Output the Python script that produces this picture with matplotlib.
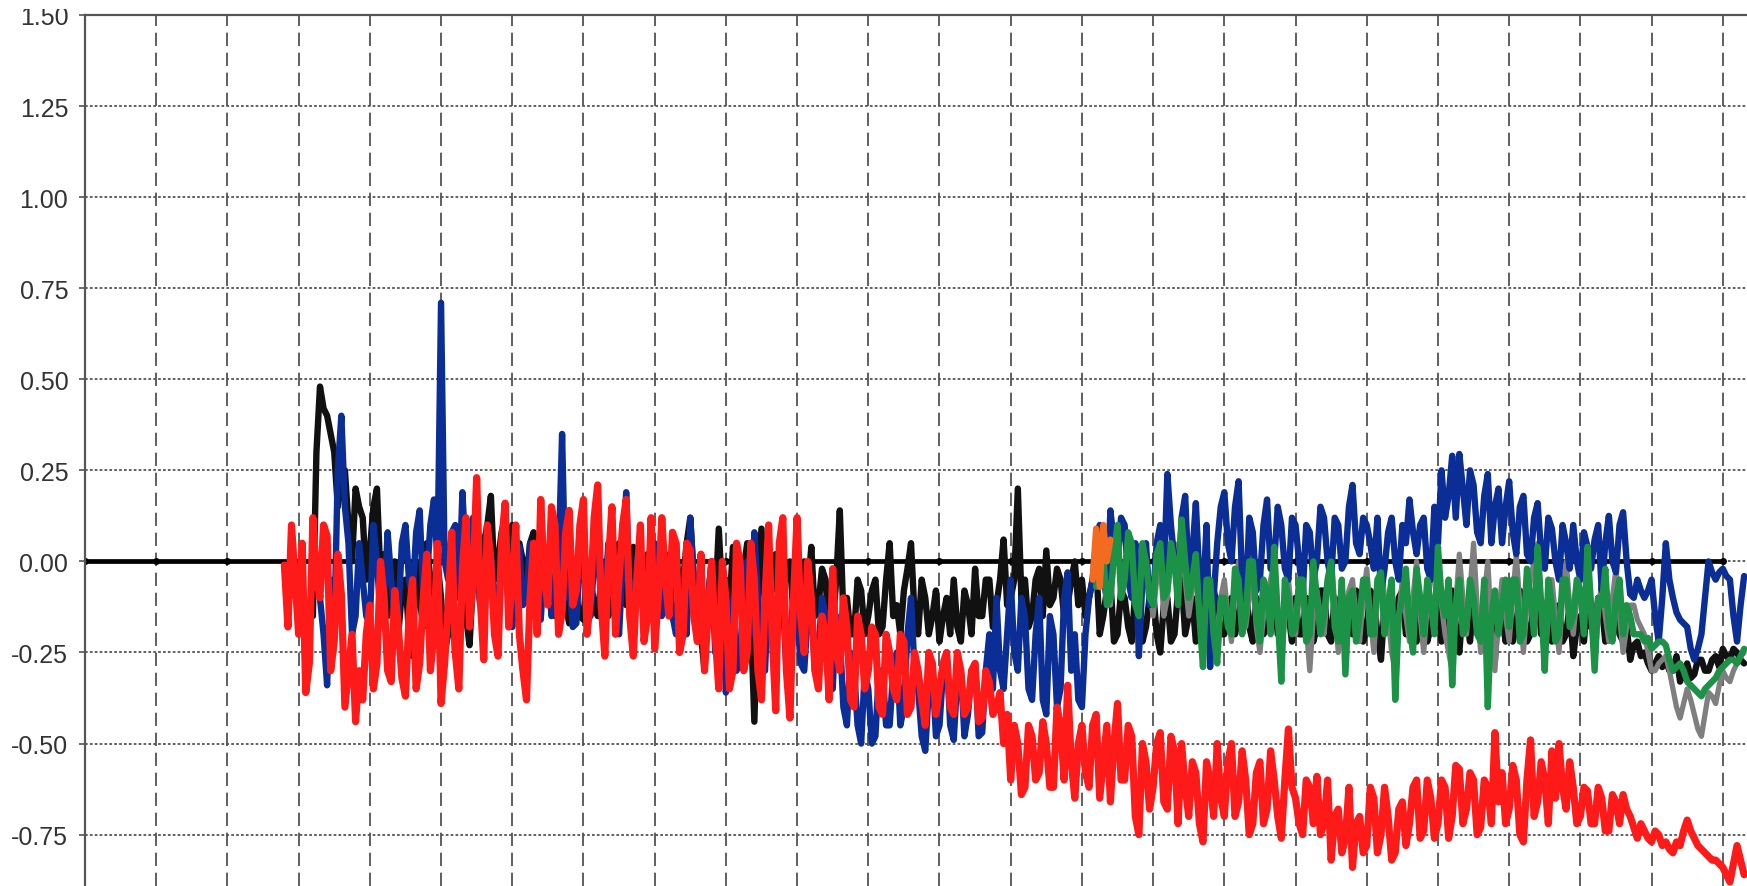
import numpy as np
import matplotlib.pyplot as plt
from matplotlib.patches import Rectangle
from matplotlib.ticker import FormatStrFormatter

plt.rcParams['font.family'] = ['Liberation Sans', 'DejaVu Sans']
plt.rcParams['axes.unicode_minus'] = False

# y tick values and labels
y_ticks = [-0.75, -0.50, -0.25, 0.00, 0.25, 0.50, 0.75, 1.00, 1.25, 1.50]
x_grid = list(range(0, 24))

# series: *_vals every 0.1 from *_start,
# *_mid the readings half way between them
red_start = 2.8
red_vals = [
    -0.01, 0.10,
    -0.2, -0.36, 0.12, -0.1, 0.07, -0.22, -0.09, -0.3, -0.44, -0.38,
    -0.12, -0.28, -0.1, -0.33, -0.18, -0.37, -0.05, -0.28, 0.02, -0.2,
    -0.39, -0.12, -0.25, -0.02, -0.18, 0.23, -0.27, 0.0, -0.26, 0.16,
    -0.05, -0.2, -0.38, 0.05, 0.17, -0.12, 0.1, -0.14, 0.14, -0.08,
    0.17, -0.1, 0.21, -0.26, 0.15, -0.05, 0.17, -0.26, 0.1, -0.15,
    -0.24, 0.12, -0.15, 0.05, -0.2, 0.03, -0.22, -0.3, 0.0, -0.35,
    -0.1, -0.3, 0.0, -0.25, -0.05, -0.38, 0.1, -0.41, 0.12, -0.43,
    0.12, -0.25, -0.1, -0.35, -0.2, -0.02, -0.3, -0.18, -0.4, -0.2,
    -0.3, -0.2, -0.42, -0.25, -0.38, -0.22, -0.4, -0.3, -0.45, -0.28,
    -0.35, -0.25, -0.42, -0.3, -0.4, -0.28, -0.43, -0.33, -0.4, -0.5,
    -0.6, -0.5, -0.62, -0.48, -0.58, -0.5, -0.62, -0.45, -0.34, -0.65,
    -0.45, -0.62, -0.42, -0.55, -0.66, -0.39, -0.6, -0.48, -0.75, -0.55,
    -0.62, -0.47, -0.68, -0.52, -0.5, -0.7, -0.58, -0.77, -0.6, -0.5,
    -0.7, -0.5, -0.66, -0.6, -0.72, -0.55, -0.68, -0.6, -0.76, -0.46,
    -0.65, -0.75, -0.62, -0.59, -0.72, -0.82, -0.68, -0.76, -0.84, -0.7,
    -0.78, -0.65, -0.75, -0.7, -0.8, -0.66, -0.72, -0.6, -0.74, -0.65,
    -0.72, -0.62, -0.7, -0.57, -0.68, -0.6, -0.73, -0.62, -0.47, -0.58,
    -0.68, -0.6, -0.77, -0.49, -0.66, -0.6, -0.52, -0.5, -0.68, -0.62,
    -0.7, -0.63, -0.72, -0.65, -0.74, -0.66, -0.64, -0.7, -0.76, -0.74,
    -0.77, -0.75, -0.77, -0.8, -0.78, -0.71, -0.76, -0.79, -0.81, -0.82,
    -0.84, -0.88, -0.78, -0.86,
]
red_mid = [
    -0.18, -0.05,
    0.05, -0.28, -0.05, 0.1, -0.3, 0.02, -0.4, -0.2, -0.3, -0.2,
    -0.35, 0.0, -0.3, -0.08, -0.32, -0.15, -0.35, -0.1, -0.3, 0.05,
    -0.28, 0.08, -0.35, 0.12, -0.05, -0.1, 0.1, -0.2, 0.05, -0.18,
    0.1, -0.3, -0.1, -0.2, -0.05, 0.15, -0.2, 0.08, -0.12, 0.1,
    -0.2, 0.12, -0.12, 0.0, -0.2, 0.1, -0.15, -0.05, -0.22, 0.12,
    -0.1, -0.05, 0.08, -0.25, 0.05, -0.15, 0.02, -0.15, -0.2, 0.0,
    -0.35, 0.05, -0.3, 0.05, -0.3, -0.1, -0.2, 0.05, -0.3, -0.1,
    -0.15, 0.0, -0.3, -0.15, -0.38, -0.25, -0.1, -0.38, -0.15, -0.35,
    -0.18, -0.4, -0.2, -0.35, -0.2, -0.42, -0.25, -0.38, -0.25, -0.42,
    -0.28, -0.4, -0.25, -0.42, -0.3, -0.44, -0.3, -0.42, -0.36, -0.42,
    -0.45, -0.64, -0.45, -0.6, -0.44, -0.62, -0.4, -0.6, -0.55, -0.5,
    -0.58, -0.45, -0.65, -0.45, -0.5, -0.6, -0.45, -0.7, -0.5, -0.68,
    -0.5, -0.66, -0.48, -0.72, -0.62, -0.55, -0.72, -0.55, -0.7, -0.65,
    -0.55, -0.7, -0.52, -0.75, -0.58, -0.72, -0.52, -0.7, -0.6, -0.62,
    -0.72, -0.6, -0.72, -0.75, -0.6, -0.7, -0.8, -0.62, -0.72, -0.8,
    -0.62, -0.8, -0.62, -0.82, -0.68, -0.78, -0.62, -0.76, -0.6, -0.76,
    -0.6, -0.76, -0.56, -0.72, -0.58, -0.75, -0.6, -0.72, -0.66, -0.72,
    -0.56, -0.75, -0.6, -0.7, -0.55, -0.72, -0.65, -0.62, -0.55, -0.72,
    -0.62, -0.72, -0.62, -0.74, -0.64, -0.72, -0.68, -0.73, -0.72, -0.76,
    -0.74, -0.78, -0.79, -0.77, -0.74, -0.74, -0.78, -0.8, -0.82, -0.83,
    -0.86, -0.83, -0.82,
]

blue_start = 3.3
blue_vals = [
    -0.1, -0.34, -0.2, 0.4, 0.05, -0.15, -0.05,
    -0.17, 0.0, -0.12, -0.05, -0.15, 0.1, -0.1, 0.14, -0.05, 0.17,
    0.71, -0.05, 0.1, 0.19, -0.1, 0.05, -0.12, 0.02, -0.15, 0.0,
    -0.18, 0.04, -0.1, 0.0, -0.16, 0.03, -0.12, 0.35, -0.05, -0.17,
    0.0, -0.15, 0.08, -0.1, 0.05, -0.2, 0.19, -0.23, 0.05, -0.1,
    0.05, -0.15, 0.0, -0.2, -0.05, 0.12, -0.1, -0.25, 0.0, -0.2,
    -0.36, -0.1, -0.25, 0.0, 0.08, -0.2, -0.05, -0.25, -0.1, -0.2,
    -0.15, -0.3, -0.1, -0.25, -0.15, -0.35, -0.2, -0.45, -0.3, -0.5,
    -0.35, -0.48, -0.3, -0.45, -0.25, -0.4, -0.1, -0.35, -0.52, -0.3,
    -0.45, -0.25, -0.49, -0.3, -0.42, -0.28, -0.47, -0.2, -0.1, -0.35,
    -0.05, -0.3, -0.15, -0.38, -0.1, -0.42, -0.2, -0.35, -0.03, -0.2,
    -0.4, -0.1, 0.05, -0.05, 0.14, 0.0, 0.1, -0.1, -0.26, 0.05,
    -0.1, 0.1, 0.24, 0.0, 0.12, -0.05, 0.16, -0.1, -0.29, 0.05,
    0.19, 0.0, 0.22, -0.12, 0.08, -0.05, 0.17, 0.0, 0.1, -0.05,
    0.1, -0.09, 0.08, 0.0, 0.12, -0.05, 0.1, 0.0, 0.21, 0.02,
    0.1, -0.02, -0.09, 0.08, 0.0, 0.1, 0.17, 0.02, 0.12, -0.05,
    0.05, 0.12, 0.29, 0.295, 0.1, 0.21, 0.05, 0.24, 0.15, 0.05,
    0.22, 0.02, 0.18, 0.0, 0.16, -0.02, 0.09, -0.05, 0.05, 0.1,
    -0.05, 0.04, 0.06, -0.08, 0.125, -0.03, 0.135, -0.09, -0.05, -0.1,
    -0.05, -0.22, 0.05, -0.1, -0.16, -0.18, -0.27, -0.2, 0.0, -0.05,
    -0.02, -0.05, -0.22, -0.04,
]
blue_mid = [
    -0.2, -0.05, 0.25, 0.15, -0.2, 0.05, -0.15,
    0.1, -0.15, 0.08, -0.17, 0.05, -0.05, 0.08, -0.1, 0.1, 0.0,
    0.0, 0.08, -0.1, 0.0, 0.12, -0.12, 0.1, -0.12, 0.05, -0.12,
    -0.05, -0.12, 0.05, -0.15, 0.0, -0.15, 0.0, -0.1, -0.18, 0.0,
    -0.12, 0.0, -0.15, 0.05, -0.12, 0.0, -0.1, 0.0, -0.15, 0.0,
    -0.1, 0.02, -0.15, -0.05, -0.2, -0.05, -0.2, -0.1, -0.25, -0.1,
    -0.2, -0.3, -0.1, -0.2, -0.1, -0.3, -0.15, -0.1, -0.3, -0.1,
    -0.28, -0.15, -0.3, -0.1, -0.32, -0.15, -0.4, -0.25, -0.45, -0.3,
    -0.5, -0.3, -0.45, -0.3, -0.45, -0.2, -0.3, -0.48, -0.35, -0.48,
    -0.3, -0.45, -0.32, -0.48, -0.3, -0.48, -0.3, -0.35, -0.3, -0.2,
    -0.25, -0.1, -0.35, -0.2, -0.38, -0.15, -0.4, -0.1, -0.3, -0.38,
    -0.2, -0.05, 0.1, -0.1, 0.05, 0.12, -0.05, 0.05, -0.05, -0.12,
    0.05, -0.05, 0.1, -0.08, 0.18, 0.02, -0.05, 0.1, -0.1, 0.15,
    0.05, 0.15, -0.05, 0.12, -0.08, 0.1, -0.02, 0.15, -0.02, 0.12,
    0.0, 0.1, -0.05, 0.15, 0.0, 0.12, -0.02, 0.15, 0.05, 0.12,
    0.05, 0.12, -0.02, 0.12, -0.05, 0.05, 0.08, 0.1, -0.02, 0.15,
    0.25, 0.18, 0.12, 0.2, 0.25, 0.08, 0.18, 0.05, 0.2, 0.15,
    0.08, 0.15, 0.02, 0.12, 0.02, 0.12, 0.0, 0.1, -0.02, 0.0,
    0.08, -0.02, 0.1, 0.05, 0.0, 0.1, 0.0, -0.1, -0.08, -0.08,
    -0.15, -0.1, -0.05, -0.14, -0.17, -0.24, -0.24, -0.1, -0.03, -0.03,
    -0.04, -0.15, -0.12,
]

black_start = 3.2
black_vals = [
    -0.15, 0.48, 0.4, 0.3, 0.22, 0.1, 0.2, 0.12,
    0.03, 0.2, 0.02, -0.06, -0.2, -0.05, -0.26, -0.1, 0.05, -0.15,
    -0.1, -0.2, -0.26, -0.1, -0.23, 0.0, 0.05, 0.18, 0.0, 0.12,
    0.1, 0.05, -0.05, 0.08, -0.1, 0.02, -0.15, 0.0, -0.17, -0.1,
    -0.16, -0.05, -0.15, 0.0, -0.1, 0.05, -0.12, 0.04, -0.08, 0.02,
    -0.05, 0.03, -0.1, 0.05, -0.05, 0.12, -0.1, -0.3, 0.0, 0.09,
    -0.05, 0.04, -0.1, 0.05, -0.44, 0.09, -0.05, 0.02, -0.1, 0.0,
    -0.08, 0.0, 0.04, -0.12, -0.05, -0.18, 0.14, -0.1, -0.2, -0.08,
    -0.15, -0.05, -0.18, 0.05, -0.12, -0.08, 0.05, -0.2, -0.1, -0.15,
    -0.22, -0.1, -0.05, -0.22, -0.12, -0.02, -0.15, -0.05, -0.12, 0.06,
    -0.1, 0.2, -0.05, -0.15, -0.02, 0.03, -0.1, -0.05, -0.12, 0.0,
    -0.05, -0.1, 0.0, -0.15, -0.05, -0.2, -0.1, -0.22, -0.12, -0.18,
    -0.08, -0.25, -0.1, -0.2, -0.05, -0.15, -0.22, -0.1, -0.18, -0.12,
    -0.2, -0.1, -0.15, -0.05, -0.22, -0.12, -0.18, -0.08, -0.2, -0.14,
    -0.1, -0.2, -0.12, -0.18, -0.08, -0.22, -0.15, -0.1, -0.2, -0.12,
    -0.18, -0.1, -0.27, -0.12, -0.2, -0.08, -0.15, -0.22, -0.1, -0.18,
    -0.12, -0.2, -0.08, -0.25, -0.15, -0.1, -0.2, -0.12, -0.27, -0.15,
    -0.1, -0.18, -0.12, -0.2, -0.08, -0.15, -0.22, -0.12, -0.2, -0.26,
    -0.15, -0.1, -0.2, -0.12, -0.18, -0.15, -0.22, -0.27, -0.22, -0.25,
    -0.3, -0.26, -0.27, -0.3, -0.33, -0.28, -0.31, -0.27, -0.3, -0.26,
    -0.24, -0.27, -0.25, -0.28,
]
black_mid = [
    0.3, 0.42, 0.35, 0.15, 0.25, 0.0, 0.15, -0.05,
    0.15, -0.05, -0.15, 0.0, -0.08, -0.2, 0.0, -0.18, -0.05, 0.0,
    -0.25, -0.05, -0.2, -0.15, -0.05, -0.12, 0.1, -0.05, 0.08, 0.0,
    -0.05, 0.0, 0.05, -0.12, -0.02, -0.1, 0.05, -0.12, -0.05, -0.15,
    -0.02, -0.12, -0.05, -0.15, -0.02, -0.1, 0.0, -0.12, 0.0, -0.12,
    -0.1, -0.02, -0.05, -0.1, 0.05, -0.05, -0.2, -0.1, -0.12, -0.1,
    -0.12, -0.05, -0.02, -0.15, -0.1, -0.12, -0.08, -0.12, -0.02, -0.15,
    -0.15, -0.08, -0.15, -0.02, -0.2, -0.05, -0.15, -0.2, -0.05, -0.2,
    -0.08, -0.2, -0.05, -0.15, -0.2, -0.02, -0.15, -0.05, -0.2, -0.08,
    -0.15, -0.2, -0.18, -0.08, -0.2, -0.15, -0.05, -0.18, -0.05, -0.12,
    -0.05, -0.1, -0.18, -0.05, -0.15, -0.12, -0.02, -0.15, -0.05, -0.12,
    -0.15, -0.05, -0.2, -0.08, -0.22, -0.08, -0.18, -0.08, -0.22, -0.1,
    -0.2, -0.12, -0.22, -0.08, -0.2, -0.1, -0.12, -0.22, -0.08, -0.2,
    -0.12, -0.2, -0.08, -0.18, -0.1, -0.2, -0.1, -0.2, -0.12, -0.22,
    -0.2, -0.1, -0.22, -0.08, -0.2, -0.1, -0.22, -0.15, -0.08, -0.22,
    -0.08, -0.2, -0.12, -0.22, -0.1, -0.2, -0.1, -0.12, -0.22, -0.1,
    -0.22, -0.1, -0.2, -0.12, -0.22, -0.18, -0.08, -0.22, -0.12, -0.22,
    -0.22, -0.08, -0.22, -0.1, -0.2, -0.1, -0.15, -0.22, -0.12, -0.18,
    -0.22, -0.18, -0.1, -0.22, -0.1, -0.2, -0.18, -0.23, -0.26, -0.28,
    -0.28, -0.29, -0.3, -0.26, -0.3, -0.32, -0.27, -0.3, -0.27, -0.29,
    -0.26, -0.24, -0.27,
]

green_start = 14.2
green_vals = [
    -0.07, 0.02, -0.1, 0.1, -0.05, 0.05, -0.15, 0.0,
    -0.12, 0.05, -0.08, 0.0, 0.115, -0.1, 0.02, -0.29, -0.05, -0.28,
    -0.1, -0.2, -0.05, -0.15, 0.0, -0.22, -0.08, 0.04, -0.33, -0.1,
    -0.18, -0.05, -0.2, -0.1, -0.15, 0.0, -0.22, -0.31, -0.08, -0.15,
    -0.05, -0.2, -0.03, -0.12, -0.38, -0.1, -0.18, -0.02, -0.2, -0.12,
    0.04, -0.15, -0.34, -0.05, -0.18, -0.1, -0.22, -0.4, -0.08, -0.12,
    -0.18, -0.05, -0.2, -0.1, 0.04, -0.3, -0.12, -0.2, -0.05, -0.15,
    -0.08, 0.04, -0.3, -0.12, -0.18, -0.1, -0.2, -0.15, -0.2, -0.22,
    -0.24, -0.22, -0.23, -0.3, -0.28, -0.33, -0.35, -0.37, -0.34, -0.32,
    -0.29, -0.27, -0.28, -0.24,
]
green_mid = [
    0.05, -0.12, 0.02, -0.1, 0.08, -0.12, 0.05, -0.1,
    0.02, -0.1, 0.05, -0.12, 0.0, -0.05, -0.15, -0.05, -0.2, -0.1,
    -0.18, -0.02, -0.2, 0.0, -0.15, -0.05, -0.2, -0.15, -0.05, -0.2,
    -0.05, -0.22, 0.0, -0.2, -0.05, -0.18, -0.05, -0.1, -0.22, -0.05,
    -0.2, -0.05, -0.2, -0.05, -0.15, -0.02, -0.25, -0.1, -0.05, -0.2,
    -0.1, -0.05, -0.12, -0.2, -0.05, -0.2, -0.05, -0.15, -0.2, -0.05,
    -0.05, -0.22, -0.02, -0.2, -0.12, -0.05, -0.22, -0.05, -0.18, -0.05,
    -0.2, -0.12, -0.1, -0.02, -0.22, -0.05, -0.12, -0.2, -0.2, -0.21,
    -0.23, -0.22, -0.27, -0.29, -0.3, -0.34, -0.36, -0.35, -0.33, -0.3,
    -0.28, -0.27, -0.26,
]

gray_start = 14.2
gray_vals = [
    -0.05, 0.05, -0.12, 0.08, -0.02, 0.0, -0.1, 0.03,
    -0.15, 0.0, -0.1, 0.05, 0.08, -0.15, 0.0, -0.25, -0.08, -0.2,
    -0.05, -0.22, 0.0, -0.18, -0.05, -0.25, -0.1, 0.0, -0.28, -0.05,
    -0.2, -0.02, -0.3, -0.08, -0.2, 0.02, -0.25, -0.12, -0.05, -0.22,
    -0.02, -0.25, 0.0, -0.15, -0.3, -0.05, -0.22, 0.0, -0.25, -0.05,
    0.0, -0.2, -0.3, 0.02, -0.2, 0.05, -0.25, 0.0, -0.3, -0.05,
    -0.22, 0.02, -0.25, -0.05, 0.05, -0.28, -0.05, -0.25, 0.0, -0.2,
    -0.05, 0.03, -0.28, -0.05, -0.22, -0.02, -0.25, -0.12, -0.16, -0.2,
    -0.3, -0.28, -0.26, -0.35, -0.43, -0.35, -0.42, -0.48, -0.36, -0.39,
    -0.3, -0.33, -0.28, -0.25,
]
gray_mid = [
    0.0, -0.05, 0.0, -0.05, 0.05, -0.08, -0.02, -0.08,
    -0.05, -0.15, 0.0, -0.05, -0.05, -0.08, -0.15, -0.15, -0.15, -0.1,
    -0.15, -0.08, -0.1, -0.1, -0.18, -0.15, -0.05, -0.15, -0.15, -0.15,
    -0.1, -0.18, -0.15, -0.15, -0.08, -0.12, -0.15, -0.08, -0.15, -0.1,
    -0.15, -0.1, -0.1, -0.25, -0.15, -0.15, -0.1, -0.15, -0.12, -0.02,
    -0.12, -0.25, -0.12, -0.1, -0.08, -0.12, -0.1, -0.18, -0.15, -0.15,
    -0.1, -0.12, -0.12, 0.0, -0.12, -0.15, -0.15, -0.1, -0.12, -0.1,
    -0.02, -0.15, -0.15, -0.15, -0.1, -0.15, -0.18, -0.12, -0.18, -0.25,
    -0.3, -0.27, -0.3, -0.4, -0.39, -0.38, -0.46, -0.42, -0.37, -0.34,
    -0.32, -0.3, -0.26,
]

orange_x = [14.15, 14.2, 14.25, 14.3, 14.35, 14.4]
orange_vals = [-0.05, 0.09, -0.07, 0.1, 0.0, 0.06]


def series(start, vals, mid):
    x = np.concatenate([start + 0.1 * np.arange(len(vals)),
                        start + 0.05 + 0.1 * np.arange(len(mid))])
    y = np.concatenate([vals, mid])
    order = np.argsort(x)
    return x[order], y[order]


fig = plt.figure(figsize=(17.47, 8.87), dpi=100)
ax = fig.add_axes([85 / 1747, 0, 1 - 85 / 1747, (887 - 16) / 887])
ax.set_xlim(0, 23.34)
ax.set_ylim(-0.891, 1.5)

# grid
ax.set_xticks(x_grid)
ax.set_yticks(y_ticks)
ax.xaxis.grid(True, linestyle=(0, (8, 4)), color='#444444', linewidth=1.2)
ax.yaxis.grid(True, linestyle=(0, (1.5, 1.2)), color='#555555', linewidth=1.3)
ax.set_axisbelow(True)
ax.tick_params(axis='x', length=0, labelbottom=False)
ax.tick_params(axis='y', length=4, width=1.2, color='#555555', pad=8,
               labelsize=18, labelcolor='#333333')
ax.yaxis.set_major_formatter(FormatStrFormatter('%.2f'))

for side in ['right', 'bottom']:
    ax.spines[side].set_visible(False)
for side in ['top', 'left']:
    ax.spines[side].set_color('#555555')
    ax.spines[side].set_linewidth(1.6)

# zero baseline with small markers on the grid
ax.plot(x_grid, np.zeros(len(x_grid)), color='black', lw=3.4,
        marker='o', ms=4, zorder=1.5)

kw = dict(solid_joinstyle='round', solid_capstyle='round')
ax.plot(*series(black_start, black_vals, black_mid), color='#111111', lw=4.6, zorder=2, **kw)
ax.plot(*series(gray_start, gray_vals, gray_mid), color='#7f7f7f', lw=3.8, zorder=3, **kw)
ax.plot(*series(blue_start, blue_vals, blue_mid), color='#0b2d96', lw=4.6, zorder=4, **kw)
ax.plot(*series(green_start, green_vals, green_mid), color='#1b9245', lw=4.6, zorder=5, **kw)
ax.plot(orange_x, orange_vals, color='#f26b21', lw=4.6, zorder=6, **kw)
ax.plot(*series(red_start, red_vals, red_mid), color='#ff1a1a', lw=5.2, zorder=7, **kw)

# top edge of the original image is cropped
fig.add_artist(Rectangle((0, 1 - 10 / 887), 1, 10 / 887, transform=fig.transFigure,
                         facecolor='white', edgecolor='none', zorder=10))

fig.savefig('out.png', dpi=100)
